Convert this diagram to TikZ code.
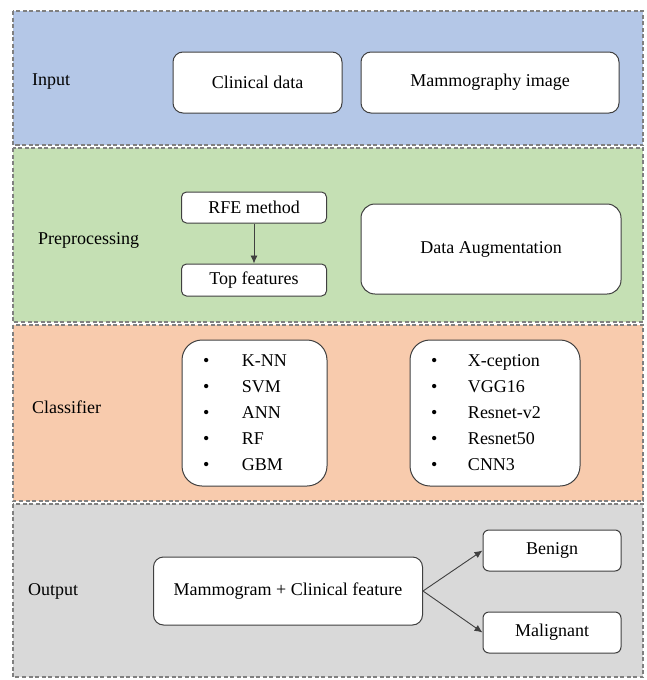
\documentclass[tikz,border=0pt]{standalone}
\usepackage{fontspec}
\setmainfont{Liberation Serif}
\newfontfamily\tnr{Liberation Serif}
\usetikzlibrary{arrows.meta}
\definecolor{pblue}{HTML}{B4C7E7}
\definecolor{pgreen}{HTML}{C5E0B4}
\definecolor{porange}{HTML}{F8CBAD}
\definecolor{pgray}{HTML}{D9D9D9}
\definecolor{dashgray}{HTML}{808080}
\definecolor{boxline}{HTML}{404040}
\tikzset{
  panel/.style={draw=dashgray, line width=1.3pt, dash pattern=on 4pt off 2.5pt},
  box/.style={draw=boxline, line width=1pt, fill=white, rounded corners=#1, inner sep=0pt,
    font=\tnr\fontsize{18}{21.6}\selectfont, align=center},
  box/.default=8pt,
  lbl/.style={anchor=west, inner sep=0pt, font=\tnr\fontsize{18}{21.6}\selectfont},
  arr/.style={draw=boxline, line width=0.9pt, -{Latex[length=8pt,width=7pt]}}
}
\newcommand{\bitem}[2]{\makebox[#1][l]{\textbullet}#2}
\begin{document}
\begin{tikzpicture}[x=1pt,y=-1pt]
\useasboundingbox (0,0) rectangle (646,680);
\fill[white] (0,0) rectangle (646,680);
% panels
\draw[panel, fill=pblue]   (13,11)  rectangle (643,145);
\draw[panel, fill=pgreen]  (13,148) rectangle (643,322);
\draw[panel, fill=porange] (13,325) rectangle (643,501);
\draw[panel, fill=pgray]   (13,504) rectangle (643,677);
% labels
\node[lbl] (linput) at (32,82) {Input};
\node[lbl] (lpre) at (38,240) {Preprocessing};
\node[lbl] (lcls) at (32,407) {Classifier};
\node[lbl] (lout) at (28,591) {Output};
% input
\node[box=10pt, minimum width=169pt, minimum height=61pt] (cd) at (257.5,82.5) {Clinical data};
\node[box=10pt, minimum width=258pt, minimum height=61pt] (mi) at (490,82.5) {Mammography image};
% preprocessing
\node[box=5pt, minimum width=145pt, minimum height=31pt] (rfe) at (254,207.5) {RFE method};
\node[box=5pt, minimum width=145pt, minimum height=32pt] (top) at (254,280) {Top features};
\node[box=14pt, minimum width=260pt, minimum height=90pt] (da) at (491,249) {Data Augmentation};
\draw[arr] (rfe) -- (top);
% classifier
\node[box=20pt, minimum width=145pt, minimum height=146pt, text width=103pt, align=left,
      font=\tnr\fontsize{18}{26}\selectfont] (ml) at (254.5,413)
  {\bitem{39pt}{K-NN}\\\bitem{39pt}{SVM}\\\bitem{39pt}{ANN}\\\bitem{39pt}{RF}\\\bitem{39pt}{GBM}};
\node[box=20pt, minimum width=170pt, minimum height=146pt, text width=128pt, align=left,
      font=\tnr\fontsize{18}{26}\selectfont] (dl) at (495,413)
  {\bitem{37pt}{X-ception}\\\bitem{37pt}{VGG16}\\\bitem{37pt}{Resnet-v2}\\\bitem{37pt}{Resnet50}\\\bitem{37pt}{CNN3}};
% output
\node[box=10pt, minimum width=269pt, minimum height=68pt] (mc) at (288,591) {Mammogram + Clinical feature};
\node[box=6pt, minimum width=138pt, minimum height=41pt] (ben) at (552,550.5) {Benign};
\node[box=6pt, minimum width=138pt, minimum height=41pt] (mal) at (552,632.5) {Malignant};
\draw[arr] (mc.east) -- (ben.west);
\draw[arr] (mc.east) -- (mal.west);
\end{tikzpicture}
\end{document}
